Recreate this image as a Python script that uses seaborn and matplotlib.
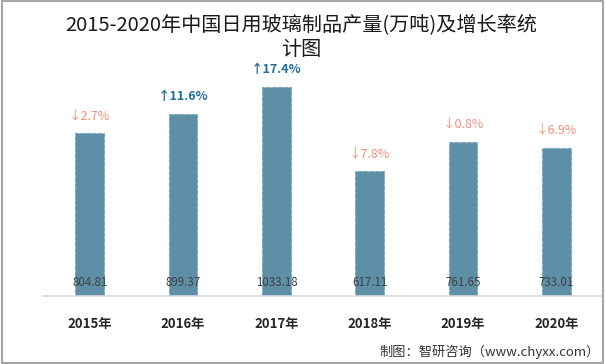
import matplotlib
matplotlib.use('Agg')
import matplotlib.pyplot as plt
import seaborn as sns
import pandas as pd
from matplotlib.patches import Rectangle

# ---- 数据 ----
years = ['2015年', '2016年', '2017年', '2018年', '2019年', '2020年']
output = [804.81, 899.37, 1033.18, 617.11, 761.65, 733.01]
growth = [-2.7, 11.6, 17.4, -7.8, -0.8, -6.9]

TITLE = '2015-2020年中国日用玻璃制品产量(万吨)及增长率统\n计图'
SOURCE = '制图：智研咨询（www.chyxx.com）'

BAR_COLOR = '#5D8FA7'
UP_COLOR = '#1F6F9C'
DOWN_COLOR = '#F2907C'

sns.set_theme(style='white')
plt.rcParams['font.family'] = ['Noto Sans CJK SC', 'DejaVu Sans']

df = pd.DataFrame({'year': years, 'output': output})

fig = plt.figure(figsize=(6.06, 3.64), dpi=100)
ax = fig.add_axes([43 / 606, 68 / 364, 560 / 606, 243.1 / 364])

sns.barplot(data=df, x='year', y='output', color=BAR_COLOR, saturation=1,
            width=0.31, edgecolor='#7FA6BA', linewidth=0.8, linestyle='--', ax=ax)

ax.set_ylim(0, 1200)
ax.set_xlim(-0.5, len(years) - 0.5)
ax.set_xlabel('')
ax.set_ylabel('')
ax.set_yticks([])
for s in ['top', 'right', 'left']:
    ax.spines[s].set_visible(False)
ax.spines['bottom'].set_color('#D9D9D9')
ax.spines['bottom'].set_linewidth(1.2)
ax.tick_params(axis='x', length=0, pad=15)
for lab in ax.get_xticklabels():
    lab.set_fontsize(9.5)
    lab.set_fontweight('bold')
    lab.set_color('#262626')

# 数值标签（底部）
for i, v in enumerate(output):
    ax.annotate(f'{v:.2f}', xy=(i, 0), xytext=(0, 9.4), textcoords='offset points',
                ha='center', va='center', fontsize=8.3, color='#404040')

# 增长率标签
for i, (v, g) in enumerate(zip(output, growth)):
    if g >= 0:
        txt, col, fw = f'↑{g:.1f}%', UP_COLOR, 'bold'
    else:
        txt, col, fw = f'↓{abs(g):.1f}%', DOWN_COLOR, 'normal'
    ax.annotate(txt, xy=(i, v), xytext=(0, 12.6), textcoords='offset points',
                ha='center', va='center', fontsize=9, color=col, fontweight=fw)

fig.text(0.497, 1 - 37 / 364, TITLE, ha='center', va='center', fontsize=14.5,
         color='#1a1a1a', linespacing=1.2)
fig.text(600 / 606, 1 - 352 / 364, SOURCE, ha='right', va='center',
         fontsize=9.5, color='#333333')

# 外边框
fig.patches.append(Rectangle((0.003, 0.004), 0.992, 0.993, transform=fig.transFigure,
                             fill=False, edgecolor='#A6A6A6', linewidth=1.5))

fig.savefig('out.png', dpi=100)
